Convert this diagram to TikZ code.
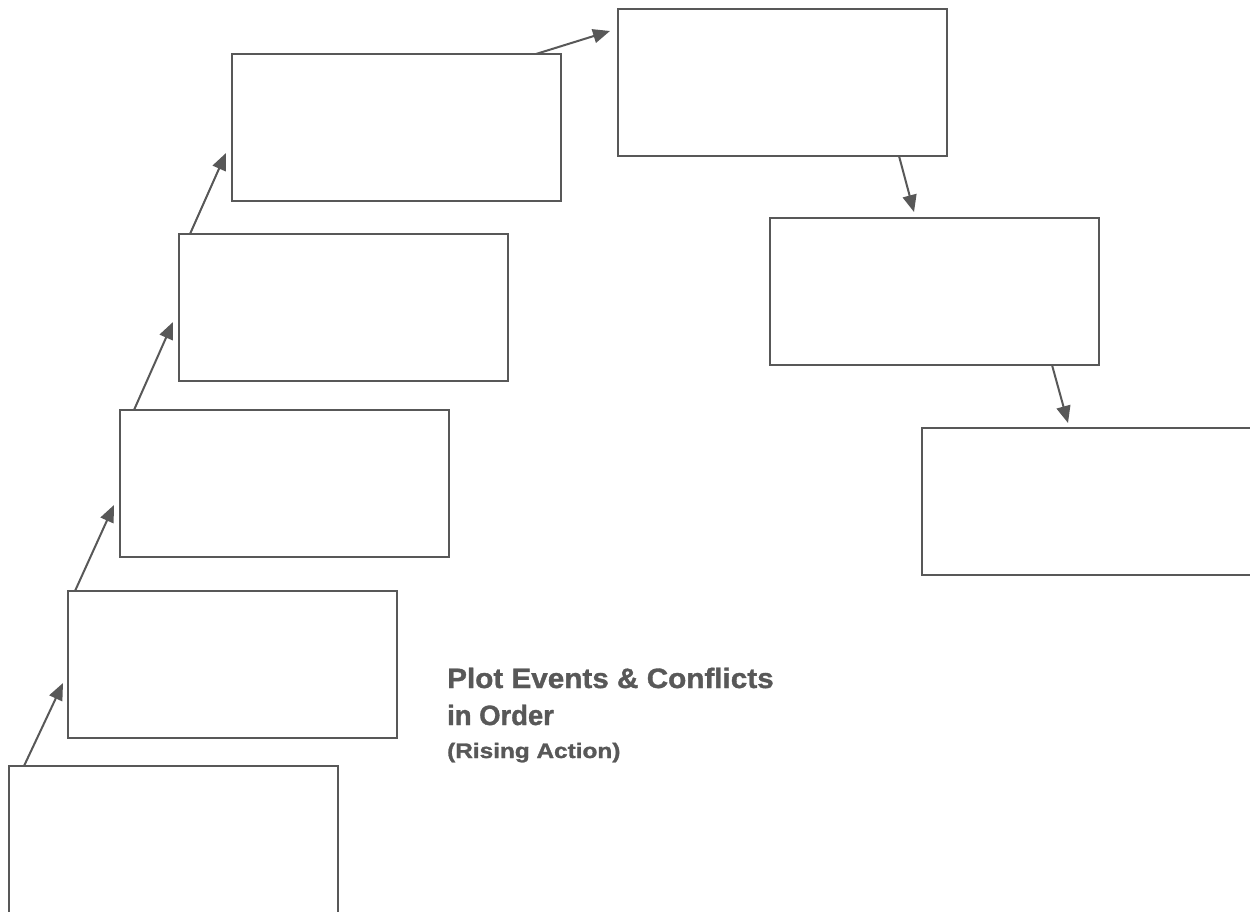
\documentclass[tikz,border=0pt]{standalone}
\usepackage{fontspec}
\setmainfont{Liberation Sans}[BoldFeatures={FakeBold=1.2}]
\usetikzlibrary{arrows.meta,calc}
\definecolor{ink}{HTML}{585858}
\begin{document}
\begin{tikzpicture}[x=1pt,y=-1pt,
  eventbox/.style={draw=ink,line width=2pt,fill=white,anchor=north west,
    minimum width=329pt,minimum height=147pt,inner sep=0pt,outer sep=0pt},
  link/.style={draw=ink,line width=2pt,-{Triangle[length=17pt,width=14pt]}},
  caption/.style={anchor=base west,inner sep=0pt,text=ink}]
\clip (0,0) rectangle (1250,912);
\fill[white] (0,0) rectangle (1250,912);
% ascending boxes
\node[eventbox] (b1) at (9,766) {};
\node[eventbox] (b2) at (68,591) {};
\node[eventbox] (b3) at (120,410) {};
\node[eventbox] (b4) at (179,234) {};
\node[eventbox] (b5) at (232,54) {};
% peak and descending boxes
\node[eventbox] (b6) at (618,9) {};
\node[eventbox] (b7) at (770,218) {};
\node[eventbox,minimum width=360pt] (b8) at (922,428) {};
% arrow end points
\coordinate (t2) at (63,683);
\coordinate (t3) at (114,505);
\coordinate (t4) at (173,322);
\coordinate (t5) at (226,153);
\coordinate (t6) at (610,31);
\coordinate (t7) at (914,212);
\coordinate (t8) at (1068,423);
\draw[link] ($(b1.north west)+(15,0)$) -- (t2);
\draw[link] ($(b2.north west)+(7,0)$) -- (t3);
\draw[link] ($(b3.north west)+(14,0)$) -- (t4);
\draw[link] ($(b4.north west)+(11,0)$) -- (t5);
\draw[link] ($(b5.north east)+(-25,0)$) -- (t6);
\draw[link] ($(b6.south east)+(-48,0)$) -- (t7);
\draw[link] ($(b7.south east)+(-47,0)$) -- (t8);
% caption
\node[caption] (cap1) at (447,688) {\scalebox{1.06}[1]{\bfseries\fontsize{28}{32}\selectfont Plot Events \& Conflicts}};
\node[caption] (cap2) at (447,725) {\scalebox{0.98}[1]{\bfseries\fontsize{28}{32}\selectfont in Order}};
\node[caption] (cap3) at (447,758) {\scalebox{1.16}[1]{\bfseries\fontsize{21}{25}\selectfont (Rising Action)}};
\end{tikzpicture}
\end{document}
